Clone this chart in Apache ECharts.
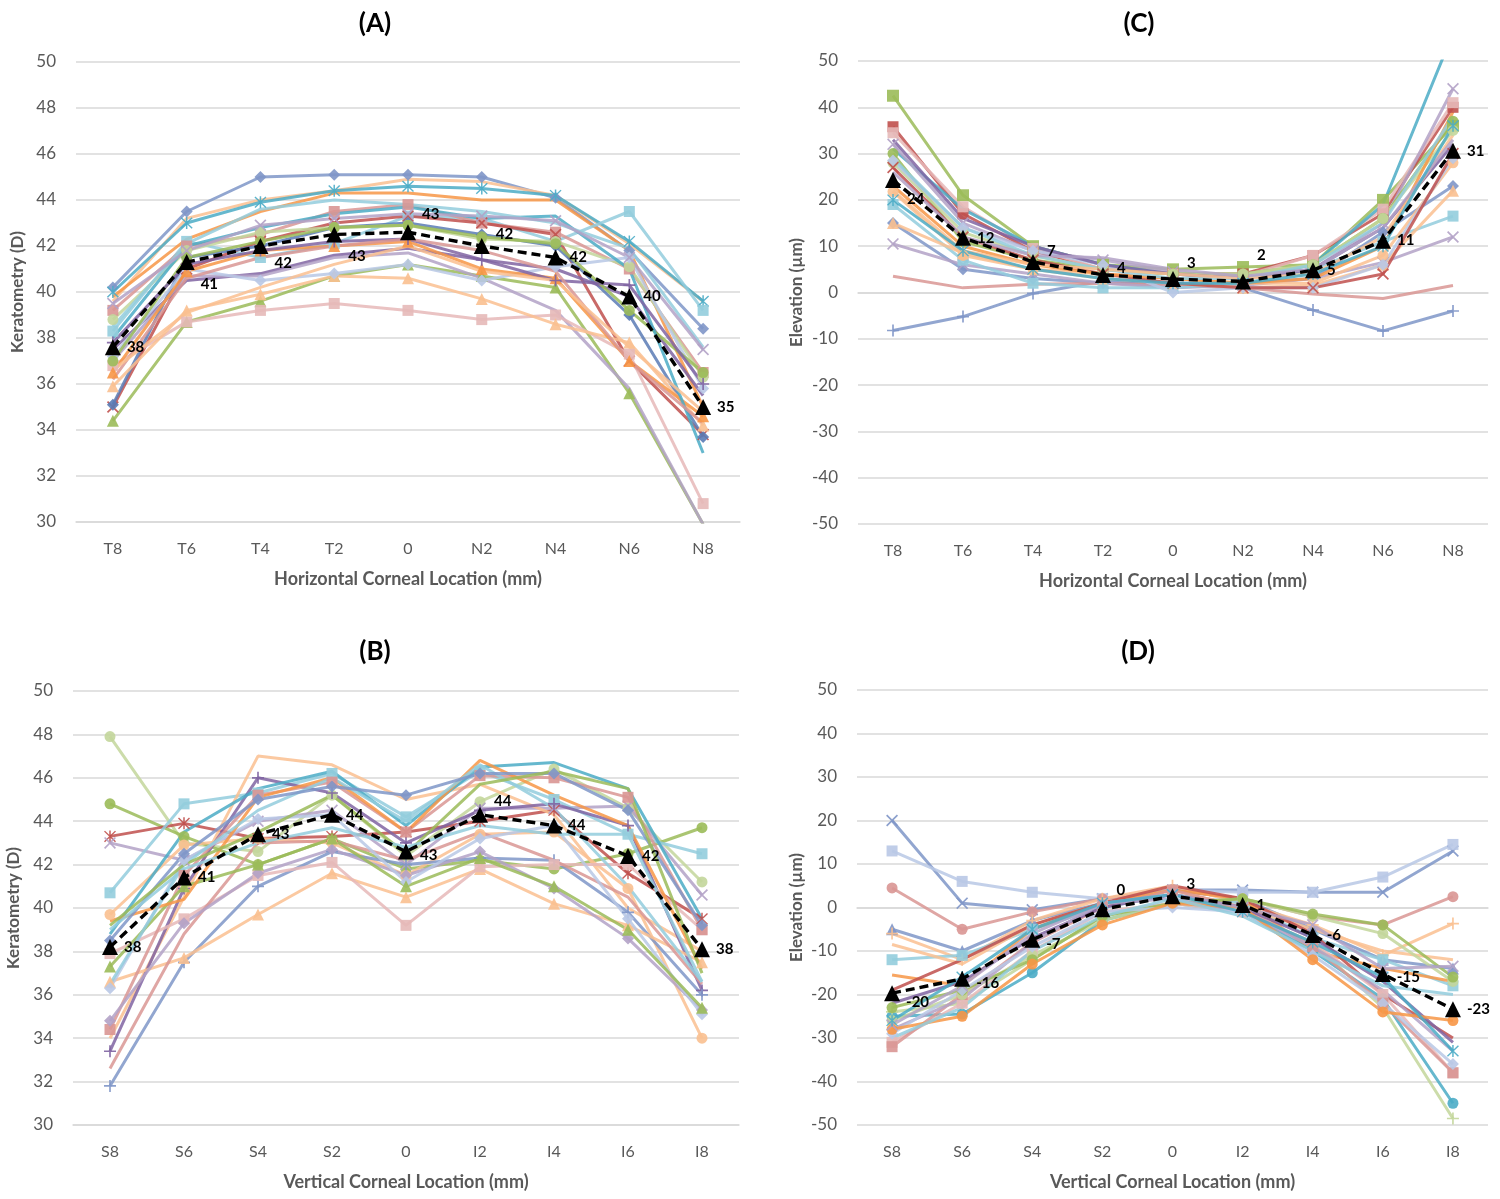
<!DOCTYPE html>
<html>
<head>
<meta charset="utf-8">
<script src="https://cdn.jsdelivr.net/npm/echarts@6/dist/echarts.min.js"></script>
<style>
  html, body { margin: 0; padding: 0; background: #fff; }
  #main { width: 1500px; height: 1199px; }
</style>
</head>
<body>
<div id="main"></div>
<script>
// categories
var horizCats = ['T8', 'T6', 'T4', 'T2', '0', 'N2', 'N4', 'N6', 'N8'];
var vertCats = ['S8', 'S6', 'S4', 'S2', '0', 'I2', 'I4', 'I6', 'I8'];

// (A) keratometry, horizontal meridian, one row per eye
var kerH = [
	[40.2, 43.5, 45.0, 45.1, 45.1, 45.0, 44.1, 41.8, 38.4],
	[39.6, 43.2, 44.0, 44.4, 44.9, 44.8, 44.2, 42.1, 39.6],
	[39.8, 42.3, 43.5, 44.3, 44.3, 44.0, 44.0, 41.8, 35.0],
	[40.0, 43.0, 43.9, 44.4, 44.6, 44.5, 44.2, 42.2, 39.6],
	[38.3, 42.2, 41.5, 42.1, 43.3, 43.2, 42.2, 43.5, 39.2],
	[39.2, 42.0, 42.5, 43.5, 43.8, 43.0, 42.6, 41.0, 36.5],
	[35.0, 41.0, 42.2, 43.0, 43.3, 43.0, 42.5, 37.0, 33.8],
	[35.1, 41.5, 42.0, 42.8, 43.0, 42.5, 42.0, 39.0, 33.7],
	[34.4, 38.7, 39.6, 40.7, 41.2, 40.7, 40.2, 35.6, 29.9],
	[38.8, 41.8, 42.6, 42.8, 42.9, 42.3, 42.2, 41.1, 36.3],
	[37.5, 40.5, 40.8, 41.6, 41.9, 41.4, 41.0, 39.8, 35.5],
	[37.0, 40.7, 40.7, 41.5, 41.7, 40.6, 39.2, 35.8, 29.9],
	[36.8, 38.7, 39.2, 39.5, 39.2, 38.8, 39.0, 37.3, 30.8],
	[35.9, 39.2, 39.9, 40.7, 40.6, 39.7, 38.6, 37.8, 34.2],
	[37.2, 41.0, 40.5, 40.8, 41.2, 40.5, 41.1, 41.5, 35.8],
	[36.5, 40.9, 41.8, 42.0, 42.2, 41.0, 40.6, 37.0, 34.6],
	[37.0, 41.5, 42.2, 42.8, 42.9, 42.4, 42.1, 39.2, 36.5],
	[38.0, 42.0, 42.8, 43.4, 43.7, 43.2, 43.3, 41.0, 33.0],
	[38.5, 42.1, 43.6, 44.0, 43.8, 43.5, 43.0, 41.9, 37.6],
	[39.5, 41.8, 42.9, 43.2, 43.4, 43.3, 43.1, 41.5, 37.5],
	[37.8, 41.2, 41.8, 42.2, 42.3, 41.4, 40.5, 40.3, 36.0],
	[36.2, 40.6, 41.5, 42.0, 42.3, 41.8, 40.9, 37.0, 34.3],
	[36.6, 39.1, 40.2, 41.2, 42.0, 40.9, 40.5, 37.6, 34.8]
];
var kerHMean = [37.6, 41.3, 42.0, 42.5, 42.6, 42.0, 41.5, 39.8, 35.0];

// (C) elevation, horizontal meridian
var eleH = [
	[42.5, 21, 10, 6, 5, 5.5, 6, 20, 36],
	[35.8, 17, 9, 5, 4, 4, 8, 17, 40],
	[34.5, 18.5, 9.5, 5, 4, 3.5, 8, 18, 41],
	[15, 5, 3, 2, 2, 2, 3, 13, 23],
	[-8.2, -5.2, -0.2, 2.5, 2, 1, -3.8, -8.3, -4],
	[3.5, 1, 1.8, 2, 1.5, 1, -0.3, -1.3, 1.5],
	[10.5, 6, 4, 2, 1, 1.5, 3, 6.5, 12],
	[19, 7, 2, 1, 1, 2, 5, 11, 16.5],
	[31, 18, 10, 6, 4, 3, 6, 19, 56],
	[15, 8.5, 5, 3, 2, 1, 1.5, 6, 22],
	[21.8, 8, 5, 4, 3, 2, 2, 8, 28],
	[32, 15, 9, 7, 4.5, 3, 5, 15, 44],
	[30, 11, 7, 5, 4, 4, 6, 16, 37],
	[28, 13, 8, 5, 4, 4, 6, 16, 35],
	[28.5, 14, 9, 6, 0, 1, 1, 6, 29],
	[33, 16, 10, 6, 4, 3, 5, 14, 32],
	[27, 12, 7, 4, 2, 1, 1, 4, 30],
	[23, 10, 6, 4, 3, 2, 3, 10, 39],
	[29, 14, 8, 5, 3, 3, 6, 15, 38],
	[22, 9, 6, 5, 4, 3, 4, 12, 34],
	[26, 12, 8, 7.5, 5, 3.5, 5, 14, 33],
	[20, 9, 5, 3, 2, 2, 4, 10, 36]
];
var eleHMean = [24.3, 11.8, 6.6, 3.8, 2.9, 2.4, 4.8, 11.2, 30.6];

// (B) keratometry, vertical meridian
var kerV = [
	[47.9, 43.0, 42.6, 45.2, 42.4, 44.9, 46.4, 44.6, 41.2],
	[44.8, 43.3, 42.0, 43.2, 41.8, 42.2, 41.8, 42.5, 43.7],
	[43.3, 43.9, 43.2, 43.3, 43.5, 44.0, 44.5, 41.6, 39.5],
	[43.0, 42.2, 44.0, 44.5, 42.0, 44.6, 44.6, 44.7, 40.6],
	[40.7, 44.8, 45.3, 46.2, 44.2, 46.3, 45.0, 43.4, 42.5],
	[39.7, 42.9, 43.2, 43.0, 41.5, 43.4, 43.5, 40.9, 34.0],
	[34.0, 40.5, 47.0, 46.6, 45.0, 45.7, 44.3, 40.0, 38.0],
	[33.4, 40.9, 46.0, 45.3, 43.0, 44.5, 44.8, 43.8, 36.2],
	[31.8, 37.5, 41.0, 42.6, 42.0, 42.3, 42.2, 39.8, 36.0],
	[36.6, 37.7, 39.7, 41.6, 40.5, 41.8, 40.2, 39.2, 37.5],
	[37.9, 39.5, 41.5, 42.1, 39.2, 41.9, 42.0, 42.0, 39.0],
	[34.4, 41.5, 45.2, 45.8, 43.5, 46.1, 46.0, 45.1, 39.0],
	[32.6, 38.8, 43.0, 43.1, 42.2, 43.5, 42.2, 40.5, 36.5],
	[34.8, 39.3, 41.6, 42.7, 41.5, 42.6, 40.9, 38.6, 35.3],
	[36.3, 42.2, 44.1, 44.3, 41.2, 43.2, 43.8, 39.5, 35.1],
	[38.8, 43.5, 45.5, 46.3, 43.8, 46.5, 46.7, 45.5, 39.5],
	[37.3, 41.0, 42.0, 43.2, 41.0, 42.3, 41.0, 39.0, 35.4],
	[39.4, 40.4, 45.1, 46.0, 43.5, 46.8, 45.2, 43.8, 37.2],
	[36.5, 42.0, 44.5, 46.0, 44.0, 46.6, 44.6, 41.0, 36.6],
	[38.5, 42.5, 45.0, 45.6, 45.2, 46.2, 46.2, 44.5, 39.2],
	[39.2, 42.0, 43.5, 45.2, 42.5, 45.7, 46.3, 45.5, 37.0],
	[39.0, 41.8, 43.0, 43.7, 42.8, 43.8, 43.4, 43.4, 36.6]
];
var kerVMean = [38.2, 41.4, 43.4, 44.3, 42.6, 44.3, 43.8, 42.4, 38.1];

// (D) elevation, vertical meridian
var eleV = [
	[20, 1, -0.5, 2, 4, 4, 3.5, 3.5, 13],
	[13, 6, 3.5, 2, 4, 3.5, 3.5, 7, 14.5],
	[4.5, -5, -1, 2, 4, 2, -2, -4, 2.5],
	[-5, -10, -3, 1, 4, 2, -5, -12, -14],
	[-6, -12, -3, 2, 5, 1, -4, -11, -3.7],
	[-12, -11, -5, 0, 3, 1, -7, -12, -18],
	[-8.5, -13, -4, 1, 4, 0, -5, -10, -12],
	[-15.5, -18, -5, 1, 4, 2, -10, -14, -17],
	[-19, -12, -4, 1, 5, 2, -6, -20, -30],
	[-25, -24.5, -15, -3, 1, -1, -10, -21, -45],
	[-24, -22, -12, -2, 1, -1, -8, -23, -48.5],
	[-31, -22, -10, -1, 1, -1, -8, -20, -38],
	[-32, -20, -8, 0, 4, 0, -9, -22, -38],
	[-26, -20, -11, -3, 1, 2, -2, -6, -17],
	[-23, -19, -12, -2, 1, 2, -1.5, -4, -16],
	[-22, -17, -7, 0, 3, 0, -7, -17, -31],
	[-28, -21, -8, 1, 2, -1, -9, -19, -33],
	[-29, -19, -9, -1, 0, -1, -11, -22, -36],
	[-28, -25, -13, -4, 1, 0, -12, -24, -26],
	[-30, -23, -10, -2, 2, -2, -10, -18, -20],
	[-27, -18, -6, 1, 3, 0, -4, -14, -13.5],
	[-26, -16, -5, 1, 3, -1, -8, -16, -33]
];
var eleVMean = [-19.7, -16.4, -7.4, -0.4, 2.6, 0.6, -6.3, -15.3, -23.4];

// marker shapes (excel style)
var SYM = {
	d: 'diamond',
	s: 'rect',
	t: 'triangle',
	c: 'circle',
	p: 'path://M4.3,0H5.7V4.3H10V5.7H5.7V10H4.3V5.7H0V4.3H4.3Z',
	x: 'path://M1,0L5,4L9,0L10,1L6,5L10,9L9,10L5,6L1,10L0,9L4,5L0,1Z',
	a: 'path://M4.4,0H5.6V10H4.4Z M1,0.2L9.8,9L9,9.8L0.2,1Z M9,0.2L9.8,1L1,9.8L0.2,9Z',
	m: 'path://M0,4.3H10V5.7H0Z',
	n: 'none'
};
var C = {
	slate: '#7F96C8', red: '#C0504D', green: '#9BBB59', purple: '#8064A2',
	teal: '#4BACC6', orange: '#F79646', lblue: '#93CDDD', pink: '#E6B9B8',
	lgreen: '#C3D69B', lav: '#B3A2C7', peach: '#FAC090', lslate: '#B9C8E5',
	rose: '#D99694', navy: '#5A7BB5'
};

// line colour + marker per row
var styleA = [
	[C.slate, 'd'], [C.peach, 'n'], [C.orange, 'n'], [C.teal, 'a'], [C.lblue, 's'],
	[C.rose, 's'], [C.red, 'x'], [C.navy, 'd'], [C.green, 't'], [C.lgreen, 'c'],
	[C.purple, 'n'], [C.lav, 'n'], [C.pink, 's'], [C.peach, 't'], [C.lslate, 'd'],
	[C.orange, 't'], [C.green, 'c'], [C.teal, 'n'], [C.lblue, 'n'], [C.lav, 'x'],
	[C.purple, 'p'], [C.rose, 'n'], [C.peach, 'n']
];
var styleC = [
	[C.green, 'm'], [C.red, 's'], [C.pink, 's'], [C.slate, 'd'], [C.slate, 'p'],
	[C.rose, 'n'], [C.lav, 'x'], [C.lblue, 's'], [C.teal, 'n'], [C.peach, 't'],
	[C.peach, 'c'], [C.lav, 'x'], [C.green, 'c'], [C.lgreen, 'c'], [C.lslate, 'd'],
	[C.purple, 'n'], [C.red, 'x'], [C.orange, 'n'], [C.lblue, 'n'], [C.peach, 'n'],
	[C.lav, 'n'], [C.teal, 'a']
];
var styleB = [
	[C.lgreen, 'c'], [C.green, 'c'], [C.red, 'a'], [C.lav, 'x'], [C.lblue, 's'],
	[C.peach, 'c'], [C.peach, 'n'], [C.purple, 'p'], [C.slate, 'p'], [C.peach, 't'],
	[C.pink, 's'], [C.rose, 's'], [C.rose, 'n'], [C.lav, 'd'], [C.lslate, 'd'],
	[C.teal, 'n'], [C.green, 't'], [C.orange, 'n'], [C.lblue, 'n'], [C.slate, 'd'],
	[C.green, 'n'], [C.lblue, 'n']
];
var styleD = [
	[C.slate, 'x'], [C.lslate, 's'], [C.rose, 'c'], [C.slate, 't'], [C.peach, 'p'],
	[C.lblue, 's'], [C.peach, 'n'], [C.orange, 'n'], [C.red, 'n'], [C.teal, 'c'],
	[C.lgreen, 'p'], [C.pink, 's'], [C.rose, 's'], [C.lgreen, 'c'], [C.green, 'c'],
	[C.purple, 'n'], [C.lav, 'n'], [C.lslate, 'd'], [C.orange, 'c'], [C.lblue, 'n'],
	[C.lav, 'x'], [C.teal, 'a']
];

// vertical nudges of the mean labels (px)
var dyA = [0, 22, 17, 22, -18, -12, 0, 0, 0];
var dyC = [19, 0, -11, -7, -16, -26, 0, 0, 0];
var dyB = [0, 0, 0, 0, 4, -14, 0, 0, 0];
var dyD = [9, 4, 4, -19, -12, 0, 0, 3, 0];

var FONT = 'Lato';
var grey = '#595959';
var chart = echarts.init(document.getElementById('main'), null, { renderer: 'canvas' });

var panels = [
	{ rows: kerH, styles: styleA, mean: kerHMean, dy: dyA, cats: horizCats },
	{ rows: eleH, styles: styleC, mean: eleHMean, dy: dyC, cats: horizCats },
	{ rows: kerV, styles: styleB, mean: kerVMean, dy: dyB, cats: vertCats },
	{ rows: eleV, styles: styleD, mean: eleVMean, dy: dyD, cats: vertCats }
];

var grids = [
	{ left: 76, top: 62, width: 664, height: 460 },
	{ left: 858, top: 61, width: 630, height: 463 },
	{ left: 73, top: 691, width: 666, height: 434 },
	{ left: 857, top: 690, width: 631, height: 435 }
];
var xNames = ['Horizontal Corneal Location (mm)', 'Horizontal Corneal Location (mm)',
	'Vertical Corneal Location (mm)', 'Vertical Corneal Location (mm)'];
var yNames = ['Keratometry (D)', 'Elevation (µm)', 'Keratometry (D)', 'Elevation (µm)'];
var yRange = [[30, 50, 2], [-50, 50, 10], [30, 50, 2], [-50, 50, 10]];
var yGap = [50, 53, 51, 52];

var xAxes = [], yAxes = [], series = [];
panels.forEach(function(p, i) {
	xAxes.push({
		type: 'category',
		gridIndex: i,
		data: p.cats,
		boundaryGap: true,
		axisLine: { show: true, lineStyle: { color: '#d9d9d9', width: 1.5 } },
		axisTick: { show: false },
		axisLabel: { color: grey, fontSize: 16, fontFamily: FONT, margin: 19 },
		name: xNames[i],
		nameLocation: 'middle',
		nameGap: 48,
		nameTextStyle: { color: grey, fontSize: 18, fontWeight: 'bold', fontFamily: FONT }
	});
	yAxes.push({
		type: 'value',
		gridIndex: i,
		min: yRange[i][0],
		max: yRange[i][1],
		interval: yRange[i][2],
		axisLine: { show: false },
		axisTick: { show: false },
		axisLabel: { color: grey, fontSize: 17, fontFamily: FONT, margin: 20 },
		splitLine: { lineStyle: { color: '#d9d9d9', width: 1.5 } },
		name: yNames[i],
		nameLocation: 'middle',
		nameGap: yGap[i],
		nameTextStyle: { color: grey, fontSize: 17, fontWeight: 'bold', fontFamily: FONT }
	});
	p.rows.forEach(function(row, k) {
		var st = p.styles[k];
		series.push({
			type: 'line',
			xAxisIndex: i,
			yAxisIndex: i,
			data: row,
			symbol: SYM[st[1]],
			symbolSize: st[1] === 'c' || st[1] === 's' ? 11 : 12,
			showSymbol: st[1] !== 'n',
			lineStyle: { color: st[0], width: 3, opacity: 0.85 },
			itemStyle: { color: st[0], opacity: 0.9 },
			emphasis: { disabled: true },
			silent: true,
			z: 2
		});
	});
	series.push({
		type: 'line',
		xAxisIndex: i,
		yAxisIndex: i,
		data: p.mean.map(function(v, j) {
			return { value: v, label: { offset: [0, p.dy[j]] } };
		}),
		symbol: 'triangle',
		symbolSize: 16,
		lineStyle: { color: '#000', width: 3.4, type: [9, 5] },
		itemStyle: { color: '#000' },
		label: {
			show: true,
			position: 'right',
			distance: 6,
			color: '#000',
			fontSize: 15,
			fontWeight: 'bold',
			fontFamily: FONT,
			formatter: function(d) { return Math.round(d.value); }
		},
		emphasis: { disabled: true },
		z: 5
	});
});

var option = {
	animation: false,
	backgroundColor: '#fff',
	title: [
		{ text: '(A)', left: 370, top: 6, textAlign: 'center' },
		{ text: '(C)', left: 1134, top: 6, textAlign: 'center' },
		{ text: '(B)', left: 370, top: 634, textAlign: 'center' },
		{ text: '(D)', left: 1133, top: 634, textAlign: 'center' }
	].map(function(t) {
		t.textStyle = { color: '#000', fontSize: 26, fontWeight: 'bold', fontFamily: FONT };
		return t;
	}),
	grid: grids,
	xAxis: xAxes,
	yAxis: yAxes,
	series: series
};
chart.setOption(option);

window.addEventListener('resize', function() {
	chart.resize();
});
</script>
</body>
</html>
